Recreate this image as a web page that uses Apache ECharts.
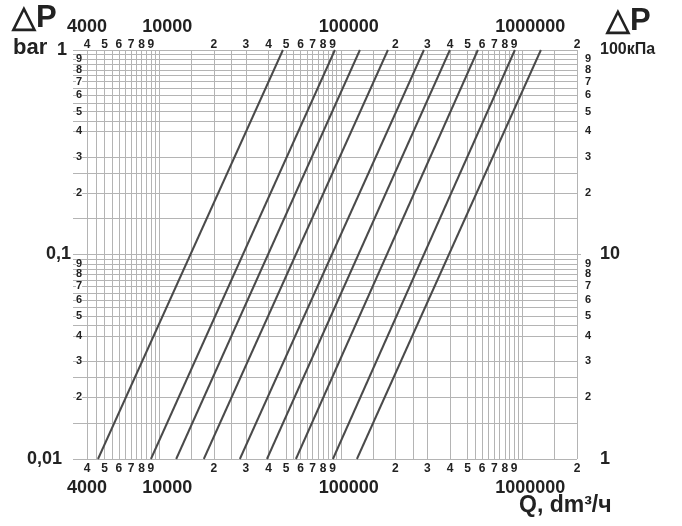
<!DOCTYPE html>
<html><head><meta charset="utf-8">
<script src="https://cdn.jsdelivr.net/npm/echarts@6/dist/echarts.min.js"></script>
<style>html,body{margin:0;padding:0;background:#fff}#c{width:682px;height:526px}</style>
</head><body><div id="c"></div>
<script>
// Flow Q (dm³/h) where each characteristic line crosses ΔP = 0.01 bar and ΔP = 1 bar
const qAtLowDp = [4600, 9000, 12400, 17600, 27800, 39200, 56600, 90500, 122700];
const qAtHighDp = [48000, 92800, 127400, 181800, 286900, 398900, 569000, 909600, 1265000];
const dpEnds = [0.01, 1];

// grid lines
const xGridValues = [
  4000, 4500, 5000, 5500, 6000, 6500, 7000, 7500, 8000, 8500, 9000, 9500,
  10000, 15000, 20000, 25000, 30000, 40000, 50000, 55000, 60000, 65000, 70000, 75000, 80000, 85000, 90000, 95000,
  100000, 150000, 200000, 250000, 300000, 400000, 500000, 550000, 600000, 650000, 700000, 750000, 800000, 850000, 900000, 950000,
  1000000, 1500000, 2000000
];
const yGridValues = [
  0.01, 0.015, 0.02, 0.025, 0.03, 0.04, 0.045, 0.05, 0.055, 0.06, 0.065, 0.07, 0.075, 0.08, 0.085, 0.09, 0.095,
  0.1, 0.15, 0.2, 0.25, 0.3, 0.4, 0.45, 0.5, 0.55, 0.6, 0.65, 0.7, 0.75, 0.8, 0.85, 0.9, 0.95, 1
];
// tick labels
const xMinorLabelValues = [4000, 5000, 6000, 7000, 8000, 9000,
  20000, 30000, 40000, 50000, 60000, 70000, 80000, 90000,
  200000, 300000, 400000, 500000, 600000, 700000, 800000, 900000, 2000000];
const xMajorLabelValues = [4000, 10000, 100000, 1000000];
const xMajorLabelTexts = ['4000', '10000', '100000', '1000000'];
const yMinorLabelValues = [0.02, 0.03, 0.04, 0.05, 0.06, 0.07, 0.08, 0.09, 0.2, 0.3, 0.4, 0.5, 0.6, 0.7, 0.8, 0.9];
const yLeftMajorValues = [0.01, 0.1, 1];
const yLeftMajorTexts = ['0,01', '0,1', '1'];
const yRightMajorValues = [0.01, 0.1, 1];
const yRightMajorTexts = ['1', '10', '100кПа'];

const FONT = "'Liberation Sans', Arial, sans-serif";
const X_MIN = 3350, X_MAX = 2000000, Y_MIN = 0.01, Y_MAX = 1;

// split the last minor label onto its own axis so the automatic end-label overlap check keeps all labels
const yMinorMain = yMinorLabelValues.slice(0, -1);
const yMinorLast = yMinorLabelValues.slice(-1);

function leadDigit(v) {
  const p = Math.pow(10, Math.floor(Math.log10(v) + 1e-9));
  return String(Math.round(v / p));
}
function lookup(vals, texts) {
  return function (v) {
    for (let i = 0; i < vals.length; i++) {
      if (Math.abs(Math.log10(v) - Math.log10(vals[i])) < 1e-6) return texts[i];
    }
    return '';
  };
}

const hidden = { show: false };
function xAxisBase(pos) {
  return { type: 'log', logBase: 10, min: X_MIN, max: X_MAX, position: pos,
    axisLine: hidden, axisTick: { show: false }, splitLine: hidden, minorTick: hidden };
}
function yAxisBase(pos) {
  return { type: 'log', logBase: 10, min: Y_MIN, max: Y_MAX, position: pos,
    axisLine: hidden, axisTick: { show: false }, splitLine: hidden, minorTick: hidden };
}
const labelCommon = { showMinLabel: true, showMaxLabel: true, hideOverlap: false };

function majorX(v) {
  const t = lookup(xMajorLabelValues, xMajorLabelTexts)(v);
  return t === '4000' ? '{a|' + t + '}' : '{b|' + t + '}';
}
const majorXRich = {
  a: { fontFamily: FONT, fontWeight: 'bold', fontSize: 18, color: '#222' },
  b: { fontFamily: FONT, fontWeight: 'bold', fontSize: 18, color: '#222', padding: [0, 0, 0, 16] }
};

const xAxes = [
  Object.assign(xAxisBase('bottom'), {
    axisTick: { show: false, customValues: xGridValues },
    splitLine: { show: true, lineStyle: { color: '#b4b4b4', width: 1 } },
    axisLabel: Object.assign({ customValues: xMinorLabelValues, formatter: leadDigit, margin: 4,
      fontFamily: FONT, fontWeight: 'bold', fontSize: 12, color: '#222' }, labelCommon)
  }),
  Object.assign(xAxisBase('bottom'), {
    axisLabel: Object.assign({ customValues: xMajorLabelValues, formatter: majorX,
      margin: 20, color: '#222', rich: majorXRich }, labelCommon)
  }),
  Object.assign(xAxisBase('top'), {
    axisLabel: Object.assign({ customValues: xMinorLabelValues, formatter: leadDigit, margin: 0,
      fontFamily: FONT, fontWeight: 'bold', fontSize: 12, color: '#222', lineHeight: 10 }, labelCommon)
  }),
  Object.assign(xAxisBase('top'), {
    axisLabel: Object.assign({ customValues: xMajorLabelValues, formatter: majorX,
      margin: 14, color: '#222', rich: majorXRich }, labelCommon)
  })
];

function majorYLeft(v) {
  const t = lookup(yLeftMajorValues, yLeftMajorTexts)(v);
  if (t === '1') return '{one|1}';
  if (t === '0,1') return '{tenth|0,1}';
  return '{hund|' + t + '}';
}
const bigY = { fontFamily: FONT, fontWeight: 'bold', fontSize: 18, color: '#222' };

function leftMinorAxis(vals) {
  return Object.assign(yAxisBase('left'), {
    axisLabel: Object.assign({ customValues: vals, formatter: leadDigit, inside: true, margin: 3,
      fontFamily: FONT, fontWeight: 'bold', fontSize: 11, color: '#222',
      backgroundColor: '#fff', padding: 0, lineHeight: 8 }, labelCommon)
  });
}
function rightMinorAxis(vals) {
  return Object.assign(yAxisBase('right'), {
    axisLabel: Object.assign({ customValues: vals, formatter: leadDigit, margin: 8,
      fontFamily: FONT, fontWeight: 'bold', fontSize: 11, color: '#222', lineHeight: 8 }, labelCommon)
  });
}

const yAxes = [
  Object.assign(yAxisBase('left'), {
    axisTick: { show: false, customValues: yGridValues },
    splitLine: { show: true, lineStyle: { color: '#b4b4b4', width: 1 } },
    axisLabel: { show: false }
  }),
  Object.assign(yAxisBase('left'), {
    axisLabel: Object.assign({ customValues: yLeftMajorValues, formatter: majorYLeft, margin: 1,
      rich: {
        one: Object.assign({ padding: [0, 5, 0, 0] }, bigY),
        tenth: Object.assign({ padding: [0, 1, 0, 0] }, bigY),
        hund: Object.assign({ padding: [0, 10, 0, 0] }, bigY)
      } }, labelCommon)
  }),
  Object.assign(yAxisBase('right'), {
    axisTick: { show: true, customValues: [0.1], length: 4, inside: false, lineStyle: { color: '#b4b4b4' } },
    axisLabel: { show: false }
  }),
  Object.assign(yAxisBase('right'), {
    axisLabel: Object.assign({ customValues: yRightMajorValues,
      formatter: function (v) { const t = lookup(yRightMajorValues, yRightMajorTexts)(v); return t.length > 2 ? '{s|' + t + '}' : '{b|' + t + '}'; },
      margin: 23, color: '#222',
      rich: { s: { fontFamily: FONT, fontWeight: 'bold', fontSize: 16, color: '#222' },
              b: { fontFamily: FONT, fontWeight: 'bold', fontSize: 18, color: '#222' } } }, labelCommon)
  }),
  leftMinorAxis(yMinorMain),
  leftMinorAxis(yMinorLast),
  rightMinorAxis(yMinorMain),
  rightMinorAxis(yMinorLast)
];

const series = qAtLowDp.map(function (q0, i) {
  return {
    type: 'line', xAxisIndex: 0, yAxisIndex: 0, symbol: 'none', silent: true,
    lineStyle: { color: '#4a4a4a', width: 2 },
    data: [[q0, dpEnds[0]], [qAtHighDp[i], dpEnds[1]]]
  };
});

const chart = echarts.init(document.getElementById('c'), null, { renderer: 'canvas' });
chart.setOption({
  animation: false,
  backgroundColor: '#fff',
  grid: { left: 73, right: 105, top: 50, bottom: 67, containLabel: false, outerBoundsMode: 'none' },
  xAxis: xAxes,
  yAxis: yAxes,
  series: series,
  graphic: [
    { type: 'text', left: 12, top: 3, style: { text: '△P', font: 'bold 31px ' + FONT, fill: '#222' } },
    { type: 'text', left: 13, top: 37, style: { text: 'bar', font: 'bold 22px ' + FONT, fill: '#222' } },
    { type: 'text', left: 606, top: 6, style: { text: '△P', font: 'bold 31px ' + FONT, fill: '#222' } },
    { type: 'text', left: 519, top: 494, style: { text: 'Q, dm³/ч', font: 'bold 23px ' + FONT, fill: '#222' } }
  ]
});
</script>
</body></html>
